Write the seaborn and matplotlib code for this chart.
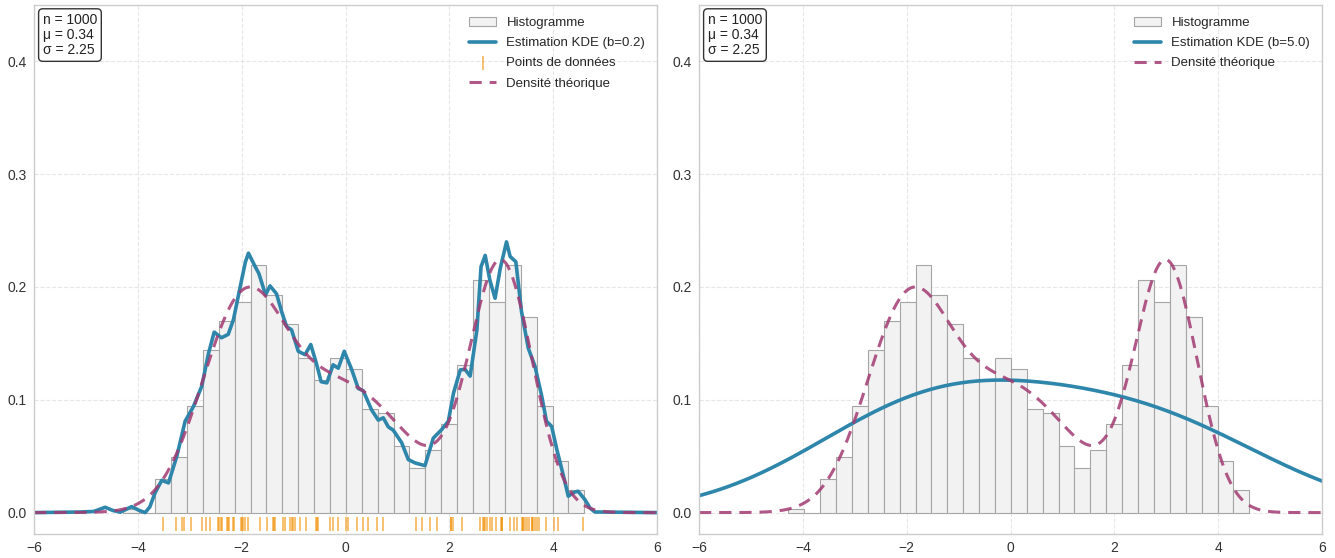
import numpy as np
import pandas as pd
import matplotlib
matplotlib.use("Agg")
import matplotlib.pyplot as plt
import seaborn as sns

# ---- histogram of the sample (29 equal bins) ----
bin_lo, bin_hi, n_bins = -4.28, 4.60, 29
bin_counts = [1, 0, 9, 15, 29, 44, 52, 57, 67, 59, 51, 42, 36, 42, 39,
              28, 27, 18, 12, 17, 24, 40, 63, 57, 67, 53, 29, 14, 6]

# ---- summary figures shown in the corner box ----
n_total = 1000
mean_val = 0.34
std_val = 2.25

# ---- KDE bandwidth parameters for each panel ----
bandwidths = [0.2, 5.0]

# ---- narrow-bandwidth KDE curve (b=0.2) ----
kde_x = [-6.0, -5.11, -4.85, -4.63, -4.49, -4.34, -4.12, -3.98, -3.86, -3.77,
         -3.67, -3.54, -3.41, -3.25, -3.09, -2.93, -2.77, -2.64, -2.53, -2.39,
         -2.26, -2.16, -2.03, -1.93, -1.87, -1.74, -1.67, -1.54, -1.455, -1.33,
         -1.23, -1.135, -1.04, -0.91, -0.78, -0.67, -0.56, -0.47, -0.36, -0.24,
         -0.14, -0.025, 0.117, 0.245, 0.341, 0.502, 0.630, 0.727, 0.823, 0.920,
         1.080, 1.209, 1.34, 1.53, 1.69, 1.85, 1.98, 2.08, 2.21, 2.30,
         2.40, 2.53, 2.61, 2.69, 2.78, 2.88, 2.98, 3.10, 3.17, 3.28,
         3.39, 3.52, 3.65, 3.78, 3.87, 3.97, 4.07, 4.20, 4.29, 4.40,
         4.48, 4.61, 4.71, 4.80, 6.0]
kde_y = [0.0, 0.0005, 0.001, 0.0047, 0.002, 0.0003, 0.0053, 0.002, 0.0, 0.005,
         0.0174, 0.0286, 0.0263, 0.0499, 0.081, 0.094, 0.112, 0.141, 0.160, 0.155,
         0.158, 0.171, 0.200, 0.222, 0.230, 0.218, 0.212, 0.193, 0.201, 0.194,
         0.178, 0.165, 0.162, 0.143, 0.140, 0.149, 0.132, 0.116, 0.115, 0.131,
         0.128, 0.143, 0.127, 0.110, 0.108, 0.091, 0.082, 0.084, 0.076, 0.073,
         0.062, 0.047, 0.044, 0.0416, 0.066, 0.0735, 0.081, 0.106, 0.1265, 0.127,
         0.121, 0.162, 0.218, 0.228, 0.206, 0.190, 0.2165, 0.240, 0.227, 0.2224,
         0.178, 0.1457, 0.1295, 0.103, 0.081, 0.0764, 0.0558, 0.032, 0.0145, 0.018,
         0.0189, 0.0115, 0.004, 0.0005, 0.0]

# ---- subset of observations shown as a rug ----
rug_points = [-3.509, -3.265, -3.156, -3.105, -2.983, -2.771, -2.687, -2.610,
              -2.450, -2.430, -2.405, -2.379, -2.276, -2.255, -2.244, -2.174,
              -2.148, -2.020, -2.000, -1.968, -1.936, -1.885, -1.647, -1.519,
              -1.403, -1.380, -1.358, -1.211, -1.166, -1.069, -1.037, -1.010,
              -0.973, -0.877, -0.761, -0.569, -0.555, -0.537, -0.299, -0.248,
              -0.138, 0.009, 0.054, 0.227, 0.343, 0.439, 0.613, 0.728,
              1.357, 1.466, 1.627, 1.768, 2.025, 2.040, 2.063, 2.237,
              2.590, 2.654, 2.670, 2.686, 2.731, 2.783, 2.828, 2.898,
              2.994, 3.008, 3.020, 3.168, 3.251, 3.296, 3.393, 3.410,
              3.425, 3.457, 3.502, 3.540, 3.585, 3.600, 3.617, 3.649,
              3.682, 3.733, 3.861, 4.015, 4.099, 4.580]

# ---- theoretical density: three-component Gaussian mixture ----
mix_weights = [0.34, 0.33, 0.33]
mix_means = [-2.0, 0.0, 3.0]
mix_sds = [0.8, 1.2, 0.6]

C_KDE = "#2E86AB"
C_THEO = "#A23B72"
C_RUG = "#F18F01"

sns.set_style("whitegrid", {"grid.linestyle": "--", "grid.color": "#e6e6e6",
                            "axes.edgecolor": "#cccccc"})
plt.rcParams["font.family"] = ["Liberation Sans", "DejaVu Sans"]

edges = np.linspace(bin_lo, bin_hi, n_bins + 1)
centers = 0.5 * (edges[:-1] + edges[1:])
hist_df = pd.DataFrame({"x": centers, "count": bin_counts})
sample = np.repeat(centers, bin_counts)

grid = np.linspace(-6, 6, 600)
theo = np.zeros_like(grid)
for w, m, s in zip(mix_weights, mix_means, mix_sds):
    theo += w * np.exp(-0.5 * ((grid - m) / s) ** 2) / (s * np.sqrt(2 * np.pi))

fig, axes = plt.subplots(1, 2, figsize=(13.35, 5.58), dpi=100)
fig.subplots_adjust(left=0.0255, right=0.9903, bottom=0.043, top=0.991, wspace=0.0674)

for i, (ax, b) in enumerate(zip(axes, bandwidths)):
    sns.histplot(data=hist_df, x="x", weights="count", bins=n_bins,
                 binrange=(bin_lo, bin_hi), stat="density",
                 color="#f2f2f2", edgecolor="#a5a5a5", linewidth=0.8, alpha=1.0,
                 label="Histogramme", ax=ax)
    kde_label = f"Estimation KDE (b={b})"
    if i == 0:
        sns.lineplot(x=kde_x, y=kde_y, color=C_KDE, linewidth=2.6,
                     label=kde_label, ax=ax)
        sns.scatterplot(x=rug_points, y=[-0.0105] * len(rug_points), marker="|",
                        s=110, linewidth=1.3, color=C_RUG, alpha=0.6,
                        label="Points de données", ax=ax)
    else:
        # bandwidth factor relative to the sample standard deviation
        factor = b * 0.76 * len(sample) ** (-1 / 5)
        sns.kdeplot(x=sample, bw_method=factor, cut=4, gridsize=500,
                    color=C_KDE, linewidth=2.6, label=kde_label, ax=ax)
    sns.lineplot(x=grid, y=theo, color=C_THEO, alpha=0.85, linewidth=2.2,
                 linestyle=(0, (4, 2.6)), label="Densité théorique", ax=ax)

    ax.set_xlim(-6, 6)
    ax.set_ylim(-0.019, 0.45)
    ax.set_xticks(np.arange(-6, 7, 2))
    ax.set_yticks([0.0, 0.1, 0.2, 0.3, 0.4])
    ax.set_yticklabels([f"{v:.1f}" for v in [0.0, 0.1, 0.2, 0.3, 0.4]])
    ax.set_xlabel("")
    ax.set_ylabel("")
    ax.tick_params(labelsize=10, colors="#333333", length=0, pad=5)
    for sp in ax.spines.values():
        sp.set_color("#cccccc")
        sp.set_linewidth(1.0)

    handles, labels = ax.get_legend_handles_labels()
    order = ["Histogramme", kde_label, "Points de données", "Densité théorique"]
    hl = {l: h for h, l in zip(handles, labels)}
    keep = [l for l in order if l in hl]
    ax.legend([hl[l] for l in keep], keep, loc="upper right", frameon=False,
              fontsize=9.5, handlelength=2.0, labelspacing=0.6,
              borderaxespad=0.5)

    ax.text(0.014, 0.985, f"n = {n_total}\nμ = {mean_val:.2f}\nσ = {std_val:.2f}",
            transform=ax.transAxes, ha="left", va="top", fontsize=10,
            color="#222222", linespacing=1.1,
            bbox=dict(boxstyle="round,pad=0.3", facecolor="white",
                      edgecolor="#333333", linewidth=1.0))

fig.savefig("out.png", dpi=100)
